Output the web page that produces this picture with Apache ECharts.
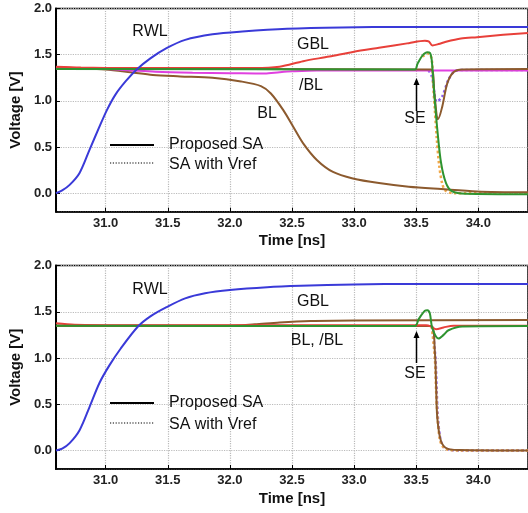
<!DOCTYPE html>
<html>
<head>
<meta charset="utf-8">
<script src="https://cdn.jsdelivr.net/npm/echarts@6/dist/echarts.min.js"></script>
<style>html,body{margin:0;padding:0;background:#fff;}#c{width:528px;height:513px;}</style>
</head>
<body>
<div id="c"></div>
<script>
// ---- data (time [ns], voltage [V]) ----
// Top panel
var rwlTop = [[30.6,0.0],[30.65,0.03],[30.71,0.09],[30.79,0.22],[30.87,0.47],[30.95,0.72],[31.01,0.90],[31.08,1.07],[31.16,1.21],[31.25,1.34],[31.36,1.46],[31.49,1.57],[31.64,1.66],[31.86,1.72],[32.1,1.75],[32.46,1.78],[32.9,1.795],[33.4,1.80],[34.4,1.80]];
var gblTop = [[30.6,1.37],[30.8,1.36],[31.2,1.355],[32.2,1.355],[32.4,1.37],[32.59,1.43],[32.8,1.48],[32.99,1.53],[33.2,1.575],[33.44,1.625],[33.57,1.65],[33.6,1.645],[33.63,1.60],[33.68,1.615],[33.74,1.64],[33.86,1.675],[33.99,1.69],[34.2,1.715],[34.4,1.735]];
var nblTop = [[30.6,1.35],[31.0,1.345],[31.2,1.33],[31.4,1.315],[31.7,1.305],[32.0,1.30],[32.28,1.295],[32.4,1.31],[32.5,1.32],[32.7,1.33],[33.0,1.33],[34.4,1.33]];
var blTop = [[30.6,1.365],[31.0,1.34],[31.2,1.31],[31.38,1.28],[31.6,1.265],[31.86,1.25],[32.09,1.21],[32.25,1.16],[32.33,1.08],[32.43,0.90],[32.51,0.72],[32.59,0.54],[32.70,0.36],[32.83,0.23],[32.99,0.16],[33.2,0.11],[33.44,0.07],[33.7,0.045],[33.99,0.02],[34.4,0.01]];
var outBTop = [[30.6,1.345],[33.62,1.34],[33.645,1.10],[33.665,0.84],[33.675,0.80],[33.71,0.94],[33.75,1.19],[33.80,1.31],[33.87,1.34],[34.4,1.345]];
var outGTop = [[30.6,1.345],[33.49,1.34],[33.51,1.40],[33.55,1.49],[33.59,1.525],[33.61,1.52],[33.625,1.44],[33.645,1.08],[33.67,0.69],[33.70,0.33],[33.74,0.11],[33.79,0.02],[33.9,-0.005],[34.4,-0.01]];
var refPTop = [[33.60,1.33],[33.63,1.25],[33.65,1.05],[33.665,0.99],[33.71,1.05],[33.76,1.23],[33.81,1.32],[33.9,1.335],[34.4,1.335]];
var refOTop = [[33.55,1.48],[33.6,1.51],[33.625,1.45],[33.635,1.2],[33.65,0.9],[33.665,0.6],[33.685,0.3],[33.71,0.1],[33.735,0.03],[33.8,0.0],[34.4,0.0]];
// Bottom panel
var rwlBot = [[30.6,0.0],[30.65,0.02],[30.71,0.08],[30.79,0.22],[30.87,0.47],[30.95,0.73],[31.03,0.92],[31.12,1.10],[31.26,1.34],[31.36,1.45],[31.49,1.55],[31.64,1.645],[31.8,1.70],[32.0,1.735],[32.3,1.765],[32.57,1.78],[33.0,1.795],[33.49,1.80],[34.4,1.80]];
var gblBot = [[30.6,1.35],[32.0,1.35],[32.2,1.365],[32.4,1.385],[32.65,1.40],[33.0,1.405],[34.4,1.41]];
var redBot = [[30.6,1.375],[30.75,1.36],[31.2,1.355],[33.58,1.355],[33.62,1.34],[33.66,1.31],[33.72,1.33],[33.8,1.35],[34.4,1.35]];
var blBot = [[30.6,1.35],[33.62,1.345],[33.65,1.07],[33.66,0.71],[33.67,0.35],[33.70,0.10],[33.75,0.02],[33.85,0.005],[34.4,0.0]];
var outGBot = [[30.6,1.35],[33.49,1.345],[33.52,1.42],[33.57,1.51],[33.59,1.515],[33.61,1.48],[33.63,1.32],[33.68,1.21],[33.72,1.25],[33.76,1.30],[33.87,1.34],[34.4,1.345]];
var refPBot = [[33.63,1.34],[33.655,1.0],[33.665,0.65],[33.675,0.35],[33.695,0.12],[33.72,0.04],[33.76,0.01],[33.85,0.0],[34.4,0.0]];
var refOBot = [[33.625,1.34],[33.65,1.0],[33.66,0.65],[33.672,0.35],[33.69,0.12],[33.715,0.04],[33.75,0.01],[33.85,0.0],[34.4,0.0]];

var C = {blue:'#3a3ad8', red:'#e8403a', mag:'#e040e0', brown:'#8c5a2e', green:'#2f9430', purple:'#8a5cf0', orange:'#f0a84a'};

function mk(data, color, idx, dotted) {
  return {
    type:'line', data:data, xAxisIndex:idx, yAxisIndex:idx, showSymbol:false, symbol:'none',
    smooth:0.3, animation:false, silent:true,
    lineStyle:{color:color, width: dotted?2.5:2, type: dotted?'dotted':'solid'}
  };
}

var tickFont = {fontFamily:'Liberation Sans, Arial, sans-serif', fontWeight:'bold', fontSize:13, color:'#222'};
function xAx(idx){
  return {type:'value', gridIndex:idx, min:30.6, max:34.4, splitNumber:8,
    name:'Time [ns]', nameLocation:'middle', nameGap:22,
    nameTextStyle:{fontFamily:'Liberation Sans, Arial, sans-serif', fontWeight:'bold', fontSize:15, color:'#111'},
    axisLine:{show:true, onZero:false, lineStyle:{color:'#000', width:1.5}},
    axisTick:{show:true, inside:true, length:4, lineStyle:{color:'#000'}},
    axisLabel:Object.assign({margin:5, showMinLabel:false, showMaxLabel:false, formatter:function(v){return v.toFixed(1);}}, tickFont),
    splitLine:{show:true, lineStyle:{type:'dotted', color:'#bbb', width:1.2}}
  };
}
function yAx(idx){
  return {type:'value', gridIndex:idx, min:-0.2, max:2.0, splitNumber:5,
    name:'Voltage [V]', nameLocation:'middle', nameGap:27,
    nameTextStyle:{fontFamily:'Liberation Sans, Arial, sans-serif', fontWeight:'bold', fontSize:15, color:'#111'},
    axisLine:{show:true, onZero:false, lineStyle:{color:'#000', width:2}},
    axisTick:{show:true, inside:true, length:4, lineStyle:{color:'#000'}},
    axisLabel:Object.assign({margin:4, showMinLabel:false, formatter:function(v){return v.toFixed(1);}}, tickFont),
    splitLine:{show:true, lineStyle:{type:'dotted', color:'#bbb', width:1.2}}
  };
}

var lblFont = 'Liberation Sans, Arial, sans-serif';
function txt(x, y, s){
  return {type:'text', x:x, y:y, style:{text:s, font:'16px '+lblFont, fill:'#111', textAlign:'center', textVerticalAlign:'middle'}, z:100};
}
function arrow(x, y1, y2){
  return [
    {type:'line', shape:{x1:x, y1:y2, x2:x, y2:y1+5}, style:{stroke:'#000', lineWidth:1.5}, z:100},
    {type:'polygon', shape:{points:[[x,y1],[x-3,y1+7],[x+3,y1+7]]}, style:{fill:'#000'}, z:100}
  ];
}
function legend(y1, y2){
  return [
    {type:'line', shape:{x1:110, y1:y1, x2:154, y2:y1}, style:{stroke:'#000', lineWidth:2}, z:100},
    {type:'line', shape:{x1:110, y1:y2, x2:154, y2:y2}, style:{stroke:'#000', lineWidth:1.2, lineDash:[1.2,1.6]}, z:100},
    {type:'text', x:169, y:y1, style:{text:'Proposed SA', font:'16px '+lblFont, fill:'#111', textVerticalAlign:'middle'}, z:100},
    {type:'text', x:169, y:y2+2, style:{text:'SA with Vref', font:'16px '+lblFont, fill:'#111', textVerticalAlign:'middle'}, z:100}
  ];
}

var graphics = [
  txt(150,32,'RWL'), txt(313,45,'GBL'), txt(311,86,'/BL'), txt(267,114,'BL'), txt(415,119,'SE'),
  txt(150,290,'RWL'), txt(313,302,'GBL'), txt(317,341,'BL, /BL'), txt(415,374,'SE')
].concat(arrow(416.5,78,111)).concat(arrow(416.5,331,363)).concat(legend(145,163)).concat(legend(403,423));

var chart = echarts.init(document.getElementById('c'), null, {renderer:'canvas'});
chart.setOption({
  animation:false,
  backgroundColor:'#fff',
  grid:[
    {left:51, top:8.5, right:-5, height:203.2, show:true, borderColor:'#000', borderWidth:1.5, containLabel:false},
    {left:51, top:265.5, right:-5, height:203.5, show:true, borderColor:'#000', borderWidth:1.5, containLabel:false}
  ],
  xAxis:[xAx(0), xAx(1)],
  yAxis:[yAx(0), yAx(1)],
  series:[
    mk(refPTop, C.purple, 0, true),
    mk(refOTop, C.orange, 0, true),
    mk(blTop, C.brown, 0),
    mk(nblTop, C.mag, 0),
    mk(gblTop, C.red, 0),
    mk(outBTop, C.brown, 0),
    mk(outGTop, C.green, 0),
    mk(rwlTop, C.blue, 0),
    mk(refPBot, C.purple, 1, true),
    mk(refOBot, C.orange, 1, true),
    mk(blBot, C.brown, 1),
    mk(gblBot, C.brown, 1),
    mk(redBot, C.red, 1),
    mk(outGBot, C.green, 1),
    mk(rwlBot, C.blue, 1)
  ],
  graphic:graphics
});
</script>
</body>
</html>
